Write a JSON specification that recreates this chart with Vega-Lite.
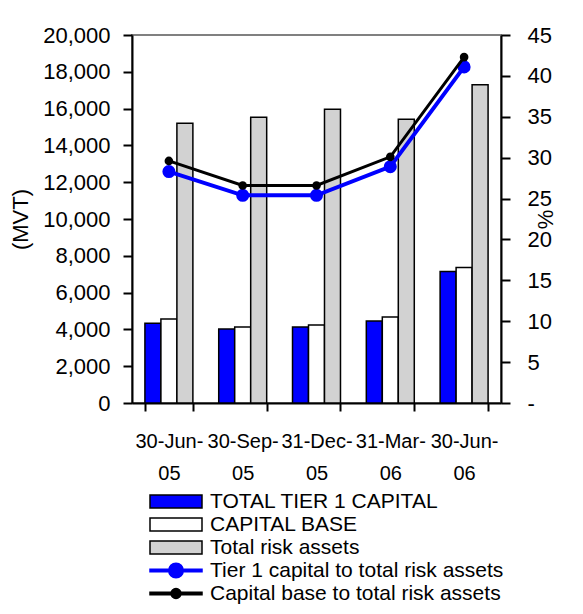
{
  "$schema": "https://vega.github.io/schema/vega-lite/v6.json",
  "width": 369,
  "height": 368,
  "autosize": {"type": "none"},
  "padding": {"left": 132, "top": 35, "right": 82, "bottom": 211},
  "background": "white",
  "config": {
    "font": "Liberation Sans",
    "view": {"stroke": "#808080", "strokeWidth": 2},
    "axis": {
      "labelFont": "Liberation Sans",
      "labelFontSize": 22,
      "labelColor": "black",
      "titleFont": "Liberation Sans",
      "titleFontSize": 22,
      "titleFontWeight": "normal",
      "titleColor": "black",
      "domainColor": "black",
      "domainWidth": 2,
      "tickColor": "black",
      "tickWidth": 2,
      "grid": false
    },
    "axisRight": {"labelPadding": 17, "tickSize": 9, "titlePadding": 6},
    "legend": {
      "labelFont": "Liberation Sans",
      "labelFontSize": 21,
      "labelColor": "black",
      "symbolSize": 2704,
      "symbolStrokeWidth": 1.5
    }
  },
  "data": {
    "values": [
      {"date": "30-Jun-05", "series": "TOTAL TIER 1 CAPITAL", "value": 4340},
      {"date": "30-Sep-05", "series": "TOTAL TIER 1 CAPITAL", "value": 4020},
      {"date": "31-Dec-05", "series": "TOTAL TIER 1 CAPITAL", "value": 4130},
      {"date": "31-Mar-06", "series": "TOTAL TIER 1 CAPITAL", "value": 4450},
      {"date": "30-Jun-06", "series": "TOTAL TIER 1 CAPITAL", "value": 7150},
      {"date": "30-Jun-05", "series": "CAPITAL BASE", "value": 4560},
      {"date": "30-Sep-05", "series": "CAPITAL BASE", "value": 4130},
      {"date": "31-Dec-05", "series": "CAPITAL BASE", "value": 4240},
      {"date": "31-Mar-06", "series": "CAPITAL BASE", "value": 4670},
      {"date": "30-Jun-06", "series": "CAPITAL BASE", "value": 7360},
      {"date": "30-Jun-05", "series": "Total risk assets", "value": 15200},
      {"date": "30-Sep-05", "series": "Total risk assets", "value": 15530},
      {"date": "31-Dec-05", "series": "Total risk assets", "value": 15970},
      {"date": "31-Mar-06", "series": "Total risk assets", "value": 15420},
      {"date": "30-Jun-06", "series": "Total risk assets", "value": 17290},
      {"date": "30-Jun-05", "series": "Tier 1 capital to total risk assets", "value": 28.3},
      {"date": "30-Sep-05", "series": "Tier 1 capital to total risk assets", "value": 25.4},
      {"date": "31-Dec-05", "series": "Tier 1 capital to total risk assets", "value": 25.4},
      {"date": "31-Mar-06", "series": "Tier 1 capital to total risk assets", "value": 28.9},
      {"date": "30-Jun-06", "series": "Tier 1 capital to total risk assets", "value": 41.1},
      {"date": "30-Jun-05", "series": "Capital base to total risk assets", "value": 29.6},
      {"date": "30-Sep-05", "series": "Capital base to total risk assets", "value": 26.6},
      {"date": "31-Dec-05", "series": "Capital base to total risk assets", "value": 26.6},
      {"date": "31-Mar-06", "series": "Capital base to total risk assets", "value": 30.1},
      {"date": "30-Jun-06", "series": "Capital base to total risk assets", "value": 42.3}
    ]
  },
  "encoding": {
    "x": {
      "field": "date",
      "type": "nominal",
      "sort": null,
      "scale": {
        "domain": ["30-Jun-05", "30-Sep-05", "31-Dec-05", "31-Mar-06", "30-Jun-06"],
        "paddingInner": 0.35,
        "paddingOuter": 0.175
      },
      "axis": {
        "title": null,
        "labelAngle": 0,
        "labelFontSize": 20,
        "tickBand": "extent",
        "tickSize": 8,
        "labelPadding": 20,
        "labelLineHeight": 32,
        "labelExpr": "[slice(datum.label, 0, 7), slice(datum.label, 7)]",
        "encode": {"ticks": {"update": {"y": {"value": -8}}}}
      }
    }
  },
  "layer": [
    {
      "transform": [{"filter": {"field": "series", "oneOf": ["TOTAL TIER 1 CAPITAL", "CAPITAL BASE", "Total risk assets"]}}],
      "mark": {"type": "bar", "stroke": "black", "strokeWidth": 1.5, "opacity": 1},
      "encoding": {
        "xOffset": {
          "field": "series",
          "type": "nominal",
          "scale": {"domain": ["TOTAL TIER 1 CAPITAL", "CAPITAL BASE", "Total risk assets"], "paddingInner": 0, "paddingOuter": 0}
        },
        "y": {
          "field": "value",
          "type": "quantitative",
          "scale": {"domain": [0, 20000], "nice": false},
          "axis": {
            "title": "(MVT)",
            "orient": "left",
            "values": [0, 2000, 4000, 6000, 8000, 10000, 12000, 14000, 16000, 18000, 20000],
            "format": ",d",
            "tickSize": 9,
            "labelPadding": 13,
            "titlePadding": 10,
            "encode": {"ticks": {"update": {"x": {"value": 9}}}}
          }
        },
        "fill": {
          "field": "series",
          "type": "nominal",
          "scale": {
            "domain": ["TOTAL TIER 1 CAPITAL", "CAPITAL BASE", "Total risk assets", "Tier 1 capital to total risk assets", "Capital base to total risk assets"],
            "range": ["#0000ff", "#ffffff", "#d2d2d2", "#0000ff", "#000000"]
          },
          "legend": {
            "title": null,
            "orient": "none",
            "legendX": 17,
            "legendY": 456,
            "labelOffset": 7,
            "labelLimit": 0,
            "clipHeight": 21,
            "rowPadding": 1,
            "symbolOpacity": 1,
            "symbolType": {"expr": "indexof(datum.value, ' to ') < 0 ? 'M-1,-0.25H1V0.25H-1Z' : (datum.value == 'Tier 1 capital to total risk assets' ? 'M-1,-0.05H1V0.05H-1Z M0.28,0A0.28,0.28 0 1 1 -0.28,0A0.28,0.28 0 1 1 0.28,0Z' : 'M-1,-0.05H1V0.05H-1Z M0.19,0A0.19,0.19 0 1 1 -0.19,0A0.19,0.19 0 1 1 0.19,0Z')"},
            "symbolStrokeColor": {"expr": "datum.value == 'Tier 1 capital to total risk assets' ? '#0000ff' : '#000000'"}
          }
        }
      }
    },
    {
      "layer": [
        {
          "transform": [{"filter": {"field": "series", "equal": "Tier 1 capital to total risk assets"}}],
          "mark": {"type": "line", "color": "#0000ff", "strokeWidth": 4, "point": {"filled": true, "size": 170, "color": "#0000ff"}}
        },
        {
          "transform": [{"filter": {"field": "series", "equal": "Capital base to total risk assets"}}],
          "mark": {"type": "line", "color": "#000000", "strokeWidth": 3, "point": {"filled": true, "size": 75, "color": "#000000"}}
        }
      ],
      "encoding": {
        "y": {
          "field": "value",
          "type": "quantitative",
          "scale": {"domain": [0, 45], "nice": false},
          "axis": {
            "title": "%",
            "orient": "right",
            "values": [0, 5, 10, 15, 20, 25, 30, 35, 40, 45],
            "labelExpr": "datum.value == 0 ? '-' : datum.label",
            "titleAngle": 270,
            "encode": {"ticks": {"update": {"x": {"value": -9}}}}
          }
        }
      }
    }
  ],
  "resolve": {"scale": {"y": "independent"}}
}
